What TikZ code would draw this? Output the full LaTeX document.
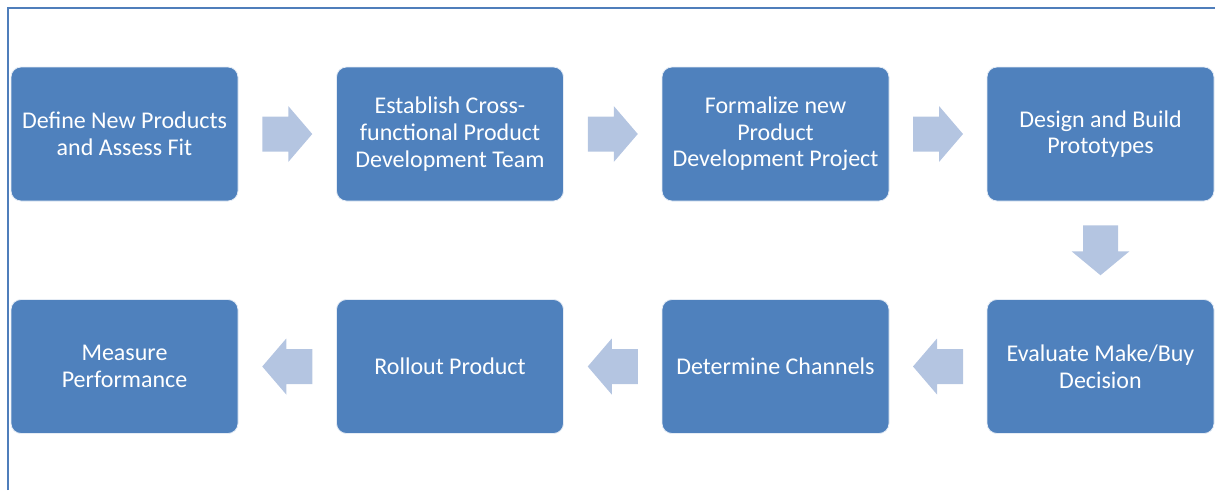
\documentclass[tikz,border=0pt]{standalone}
\usepackage{fontspec}
\setmainfont{Carlito}
\usepackage{tikz}
\usetikzlibrary{calc}

\definecolor{boxblue}{RGB}{79,129,189}
\definecolor{arrowblue}{RGB}{180,197,225}
\definecolor{frameblue}{RGB}{79,126,187}

\tikzset{
  stepbox/.style={rectangle, rounded corners=7.5pt, fill=boxblue, draw=white!85!boxblue, line width=0.6pt,
    minimum width=170.25pt, minimum height=100.5pt, text=white, align=center, inner sep=0pt,
    font=\fontsize{18}{20}\selectfont},
  flowarrow/.style={fill=arrowblue, draw=none}
}

\begin{document}
\begin{tikzpicture}[x=0.75pt,y=0.75pt,yscale=-1,xscale=1]
\useasboundingbox (0,0) rectangle (1215,490);

%Frame lines
\draw [color=frameblue, line width=1.2pt] (8,490) -- (8,8) -- (1215,8) ;

%Top row
\node [stepbox] (define) at (124.5,134) {Define New Products\\and Assess Fit};
\node [stepbox] (team) at (450,134) {Establish Cross-\\functional Product\\Development Team};
\node [stepbox] (project) at (775.5,134) {Formalize new\\Product\\Development Project};
\node [stepbox] (prototypes) at (1100.5,134) {Design and Build\\Prototypes};

%Bottom row
\node [stepbox] (makebuy) at (1100.5,366.5) {Evaluate Make/Buy\\Decision};
\node [stepbox] (channels) at (775.5,366.5) {Determine Channels};
\node [stepbox] (rollout) at (450,366.5) {Rollout Product};
\node [stepbox] (measure) at (124.5,366.5) {Measure\\Performance};

%Block arrows between the steps
\coordinate (a1) at ($(define.east)!0.5!(team.west)$);
\coordinate (a2) at ($(team.east)!0.5!(project.west)$);
\coordinate (a3) at ($(project.east)!0.5!(prototypes.west)$);
\coordinate (a4) at ($(prototypes.south)!0.5!(makebuy.north)$);
\coordinate (a5) at ($(makebuy.west)!0.5!(channels.east)$);
\coordinate (a6) at ($(channels.west)!0.5!(rollout.east)$);
\coordinate (a7) at ($(rollout.west)!0.5!(measure.east)$);

\fill [flowarrow, shift={(a1)}] (-25,-17.5) -- (1,-17.5) -- (1,-28) -- (25,0) -- (1,28) -- (1,17.5) -- (-25,17.5) -- cycle ;
\fill [flowarrow, shift={(a2)}] (-25,-17.5) -- (1,-17.5) -- (1,-28) -- (25,0) -- (1,28) -- (1,17.5) -- (-25,17.5) -- cycle ;
\fill [flowarrow, shift={(a3)}] (-25,-17.5) -- (1,-17.5) -- (1,-28) -- (25,0) -- (1,28) -- (1,17.5) -- (-25,17.5) -- cycle ;
\fill [flowarrow, shift={(a4)}, rotate=90] (-25,-17.5) -- (1,-17.5) -- (1,-29) -- (25,0) -- (1,29) -- (1,17.5) -- (-25,17.5) -- cycle ;
\fill [flowarrow, shift={(a5)}, rotate=180] (-25,-17.5) -- (1,-17.5) -- (1,-28) -- (25,0) -- (1,28) -- (1,17.5) -- (-25,17.5) -- cycle ;
\fill [flowarrow, shift={(a6)}, rotate=180] (-25,-17.5) -- (1,-17.5) -- (1,-28) -- (25,0) -- (1,28) -- (1,17.5) -- (-25,17.5) -- cycle ;
\fill [flowarrow, shift={(a7)}, rotate=180] (-25,-17.5) -- (1,-17.5) -- (1,-28) -- (25,0) -- (1,28) -- (1,17.5) -- (-25,17.5) -- cycle ;

\end{tikzpicture}
\end{document}
